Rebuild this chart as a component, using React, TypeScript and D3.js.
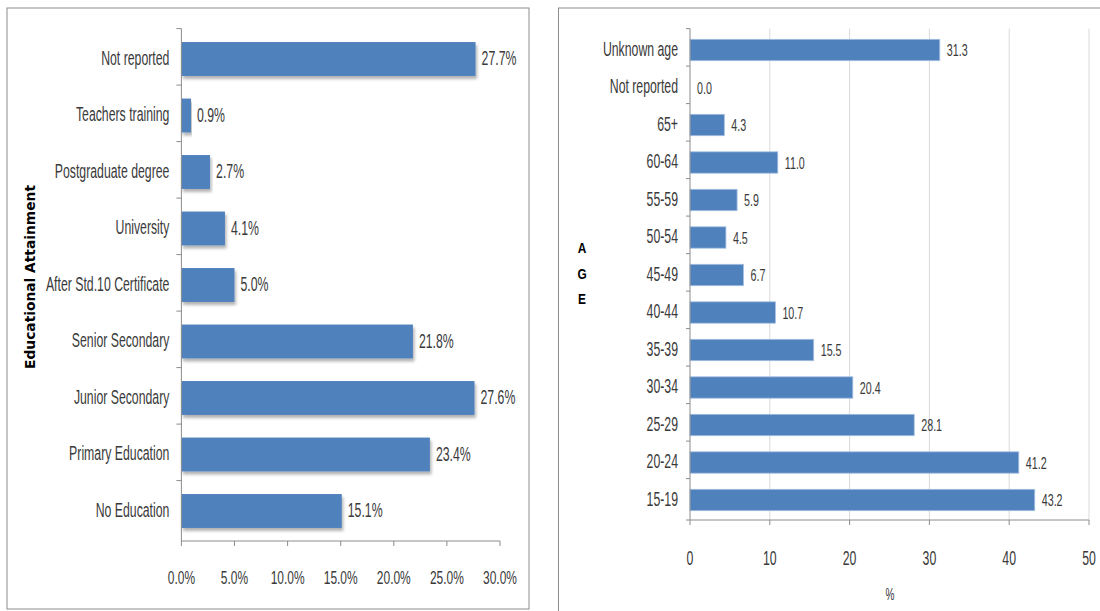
import React from "react";
import * as d3 from "d3";

const eduCategories = [
  "Not reported",
  "Teachers training",
  "Postgraduate degree",
  "University",
  "After Std.10 Certificate",
  "Senior Secondary",
  "Junior Secondary",
  "Primary Education",
  "No Education",
];
const eduValues = [27.7, 0.9, 2.7, 4.1, 5.0, 21.8, 27.6, 23.4, 15.1];
const eduTicks = [0, 5, 10, 15, 20, 25, 30];

const ageCategories = [
  "Unknown age",
  "Not reported",
  "65+",
  "60-64",
  "55-59",
  "50-54",
  "45-49",
  "40-44",
  "35-39",
  "30-34",
  "25-29",
  "20-24",
  "15-19",
];
const ageValues = [31.3, 0.0, 4.3, 11.0, 5.9, 4.5, 6.7, 10.7, 15.5, 20.4, 28.1, 41.2, 43.2];
const ageTicks = [0, 10, 20, 30, 40, 50];

const FONT = "'Liberation Sans', Arial, sans-serif";
const BAR = "#4F81BD";
const AXIS = "#8c8c8c";
const TEXT = "#3a3a3a";
const SX = 0.63;

type TxtProps = {
  x: number;
  y: number;
  size: number;
  anchor?: "start" | "middle" | "end";
  sx?: number;
  weight?: string;
  fill?: string;
  family?: string;
  children: React.ReactNode;
};

function Txt({ x, y, size, anchor = "start", sx = SX, weight, fill = TEXT, family = FONT, children }: TxtProps) {
  return (
    <text
      transform={`translate(${x},${y}) scale(${sx},1)`}
      textAnchor={anchor}
      fontSize={size}
      fontWeight={weight}
      fill={fill}
      fontFamily={family}
    >
      {children}
    </text>
  );
}

export default function App() {
  const lTop = 30.75;
  const lBottom = 539.25;
  const lAxisY = 541;
  const lx = d3.scaleLinear().domain([0, 30]).range([181.4, 500]);
  const ly = d3.scaleBand().domain(eduCategories).range([lTop, lBottom]).padding(0.4).paddingOuter(0.2);
  const rTop = 31.25;
  const rBottom = 518.75;
  const rAxisY = 520;
  const rx = d3.scaleLinear().domain([0, 50]).range([690, 1089]);
  const ry = d3.scaleBand().domain(ageCategories).range([rTop, rBottom]).padding(0.43).paddingOuter(0.215);

  const lBand = (lBottom - lTop) / eduCategories.length;
  const rBand = (rBottom - rTop) / ageCategories.length;

  return (
    <svg
      width={1100}
      height={611}
      style={{ position: "absolute", left: 0, top: 0, background: "#fff" }}
      fontFamily={FONT}
    >
      <defs>
        <filter id="sh" x="-5%" y="-20%" width="115%" height="170%">
          <feDropShadow dx="1.5" dy="3" stdDeviation="1.5" floodColor="#000" floodOpacity="0.3" />
        </filter>
      </defs>
      <rect x={0} y={0} width={1100} height={611} fill="#fff" />
      <rect x={7} y={8} width={522} height={601} fill="none" stroke={AXIS} strokeWidth={1} />
      <rect x={558.5} y={8} width={560} height={620} fill="none" stroke={AXIS} strokeWidth={1} />

      {/* LEFT CHART */}
      <g>
        {eduCategories.map((c, i) => (
          <rect
            key={c}
            x={lx(0)}
            y={ly(c)!}
            width={lx(eduValues[i]) - lx(0)}
            height={ly.bandwidth()}
            fill={BAR}
            filter="url(#sh)"
          />
        ))}
        <line x1={lx(0)} x2={lx(0)} y1={28.6} y2={lAxisY} stroke={AXIS} />
        {d3.range(eduCategories.length).map((i) => (
          <line key={i} x1={lx(0) - 5} x2={lx(0)} y1={28.6 + i * lBand} y2={28.6 + i * lBand} stroke={AXIS} />
        ))}
        <line x1={lx(0)} x2={lx(30)} y1={lAxisY} y2={lAxisY} stroke={AXIS} />
        {eduTicks.map((t) => (
          <g key={t}>
            <line x1={lx(t)} x2={lx(t)} y1={lAxisY} y2={lAxisY + 5} stroke={AXIS} />
            <Txt x={lx(t)} y={584} size={19} anchor="middle">
              {t.toFixed(1)}%
            </Txt>
          </g>
        ))}
        {eduCategories.map((c, i) => {
          const cy = ly(c)! + ly.bandwidth() / 2;
          return (
            <g key={c}>
              <Txt x={lx(0) - 12} y={cy + 5.5} size={19.5} anchor="end">
                {c}
              </Txt>
              <Txt x={lx(eduValues[i]) + 6} y={cy + 6} size={19.5}>
                {eduValues[i].toFixed(1)}%
              </Txt>
            </g>
          );
        })}
        <text
          transform={`translate(35,277) rotate(-90)`}
          textAnchor="middle"
          fontSize={13.8}
          fontWeight="bold"
          fontFamily="'DejaVu Sans', sans-serif"
          fill="#000"
        >
          Educational Attainment
        </text>
      </g>

      {/* RIGHT CHART */}
      <g>
        {ageTicks.slice(1).map((t) => (
          <line key={t} x1={rx(t)} x2={rx(t)} y1={28.6} y2={rAxisY} stroke="#d9d9d9" />
        ))}
        {ageCategories.map((c, i) => (
          <rect
            key={c}
            x={rx(0)}
            y={ry(c)!}
            width={rx(ageValues[i]) - rx(0)}
            height={ry.bandwidth()}
            fill={BAR}
            stroke="#a5bfe0"
            strokeWidth={0.8}
          />
        ))}
        <line x1={rx(0)} x2={rx(0)} y1={28.6} y2={rAxisY} stroke={AXIS} />
        {d3.range(ageCategories.length).map((i) => (
          <line key={i} x1={rx(0) - 4} x2={rx(0)} y1={28.6 + i * rBand} y2={28.6 + i * rBand} stroke={AXIS} />
        ))}
        <line x1={rx(0) - 4} x2={rx(50)} y1={rAxisY} y2={rAxisY} stroke={AXIS} />
        {ageTicks.map((t) => (
          <g key={t}>
            <line x1={rx(t)} x2={rx(t)} y1={rAxisY} y2={rAxisY + 5} stroke={AXIS} />
            <Txt x={rx(t)} y={565} size={19.5} anchor="middle">
              {t}
            </Txt>
          </g>
        ))}
        {ageCategories.map((c, i) => {
          const cy = ry(c)! + ry.bandwidth() / 2;
          return (
            <g key={c}>
              <Txt x={rx(0) - 12} y={cy + 5.5} size={19.5} anchor="end">
                {c}
              </Txt>
              <Txt x={rx(ageValues[i]) + 7} y={cy + 6} size={17}>
                {ageValues[i].toFixed(1)}
              </Txt>
            </g>
          );
        })}
        <Txt x={890} y={600} size={16} anchor="middle">
          %
        </Txt>
        {["A", "G", "E"].map((l, i) => (
          <Txt key={l} x={582} y={253 + i * 25.7} size={14} anchor="middle" weight="bold" sx={0.85} fill="#000">
            {l}
          </Txt>
        ))}
      </g>
    </svg>
  );
}
